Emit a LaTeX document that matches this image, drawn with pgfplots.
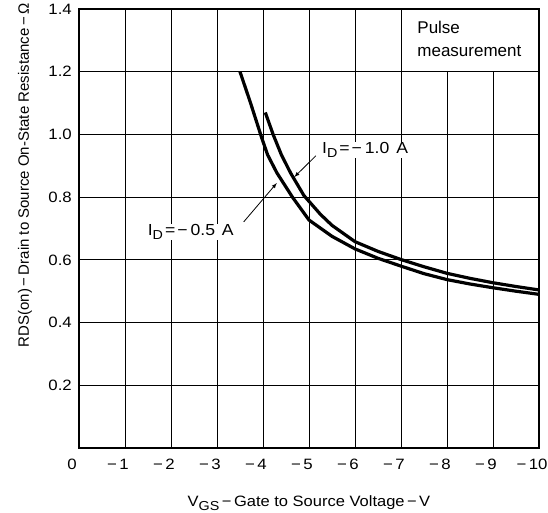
\documentclass[border=0pt]{standalone}
\usepackage{pgfplots}
\pgfplotsset{compat=1.18}
\usepackage{fontspec}
\setmainfont{Liberation Sans}
\newfontfamily\tickfont[FakeStretch=1.12]{Liberation Sans}
\newfontfamily\widefont[FakeStretch=1.1]{Liberation Sans}
\newcommand{\lsub}[1]{\raisebox{-3.5pt}{\fontsize{13}{13}\selectfont #1}}
\begin{document}
\begin{tikzpicture}
\useasboundingbox (-79pt,-65pt) rectangle (469pt,448pt);
\begin{axis}[
  scale only axis, width=460pt, height=439pt,
  at={(0,0)}, anchor=south west,
  xmin=-10, xmax=0, ymin=0, ymax=1.4, x dir=reverse,
  xtick={0,-1,-2,-3,-4,-5,-6,-7,-8,-9,-10},
  xticklabels={0,−\,1,−\,2,−\,3,−\,4,−\,5,−\,6,−\,7,−\,8,−\,9,−\,10},
  ytick={0.2,0.4,0.6,0.8,1.0,1.2,1.4},
  yticklabels={0.2,0.4,0.6,0.8,1.0,1.2,1.4},
  grid=major, grid style={black, line width=0.9pt},
  axis line style={line width=1.8pt},
  major tick length=0pt,
  tick label style={font=\fontsize{15}{17}\selectfont\tickfont, inner sep=0pt},
  xticklabel style={anchor=center, yshift=-16pt, xshift=-7pt},
  yticklabel style={anchor=east, xshift=-7pt},
  clip=false,
]
\fill[white] ([xshift=0.6pt,yshift=0.6pt]axis cs:-7,1.2) rectangle ([xshift=-1pt,yshift=-1pt]axis cs:-10,1.4);
\node[anchor=west, align=left, font=\fontsize{17}{23}\selectfont] at (axis cs:-7.28,1.305) {Pulse\\measurement};

% I_D = -0.5 A
\addplot[black, line width=3.2pt, line join=round] coordinates {
(-3.5,1.2) (-3.73,1.10) (-3.97,0.99) (-4.1,0.935) (-4.3,0.878) (-4.64,0.80) (-5,0.727) (-5.5,0.675) (-6,0.635) (-6.5,0.605) (-7,0.58) (-7.5,0.556) (-8,0.537) (-8.5,0.523) (-9,0.511) (-9.5,0.5) (-10,0.49)
};
% I_D = -1.0 A
\addplot[black, line width=3.2pt, line join=round] coordinates {
(-4.05,1.07) (-4.22,1.0) (-4.4,0.935) (-4.6,0.877) (-4.89,0.805) (-5.25,0.745) (-5.5,0.71) (-6,0.658) (-6.5,0.627) (-7,0.601) (-7.5,0.578) (-8,0.557) (-8.5,0.541) (-9,0.527) (-9.5,0.515) (-10,0.504)
};

\draw[-latex, line width=0.8pt] (axis cs:-5.15,0.932) -- (axis cs:-4.68,0.864);
\draw[-latex, line width=0.8pt] (axis cs:-3.58,0.721) -- (axis cs:-4.30,0.845);
\node[font=\fontsize{16}{18}\selectfont\widefont, fill=white, inner sep=1pt] at (axis cs:-6.22,0.95) {I\lsub{D}\hspace{2pt}=\hspace{2pt}−\hspace{3pt}1.0\hspace{2pt} A};
\node[font=\fontsize{16}{18}\selectfont\widefont, fill=white, inner sep=1pt] at (axis cs:-2.43,0.689) {I\lsub{D}\hspace{2pt}=\hspace{2pt}−\hspace{3pt}0.5\hspace{2pt} A};

\node[rotate=90, font=\fontsize{15}{17}\selectfont] at ([xshift=-54pt]axis cs:0,0.87) {RDS(on)\,−\,Drain to Source On-State Resistance\,−\,Ω};
\node[font=\fontsize{15}{17}\selectfont\widefont] at ([yshift=-55pt]axis cs:-5,0) {V\lsub{GS}\,−\,Gate to Source Voltage\,−\,V};
\end{axis}
\end{tikzpicture}
\end{document}
